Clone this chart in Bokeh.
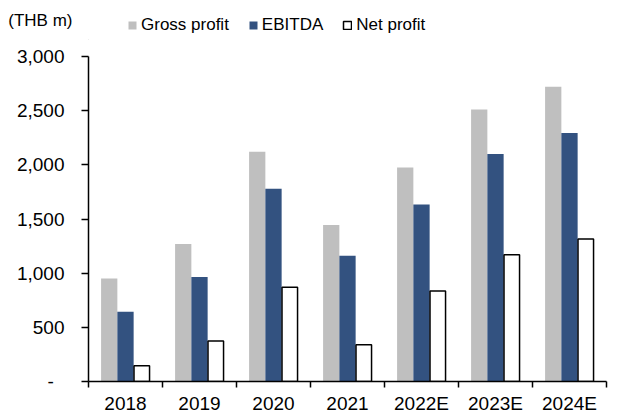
from bokeh.plotting import figure
from bokeh.layouts import column
from bokeh.models import (Range1d, FixedTicker, Legend, LegendItem,
                          NumeralTickFormatter, ColumnDataSource)
from bokeh.transform import dodge
from bokeh.embed import file_html
from bokeh.resources import INLINE

years = ["2018", "2019", "2020", "2021", "2022E", "2023E", "2024E"]
gross_profit = [950, 1270, 2120, 1445, 1975, 2510, 2720]
ebitda = [645, 965, 1780, 1160, 1635, 2100, 2295]
net_profit = [145, 375, 870, 340, 835, 1170, 1315]
y_ticks = [0, 500, 1000, 1500, 2000, 2500, 3000]
series_names = ["Gross profit", "EBITDA", "Net profit"]
unit_label = "(THB m)"

FONT = "Liberation Sans"
GREY, BLUE = "#BFBFBF", "#335280"
n = len(years)
centres = [i + 0.5 for i in range(n)]   # category slot centres on a numeric axis

# ---------------- header strip: unit label + legend ----------------
HEADER_H = 40
head = figure(width=624, height=HEADER_H, x_range=Range1d(0, 1), y_range=Range1d(0, 1),
              x_axis_location=None, y_axis_location="left",
              output_backend="svg", toolbar_location=None,
              min_border=0, min_border_left=88, min_border_right=18,
              min_border_top=0, min_border_bottom=0)
head.outline_line_color = None
head.grid.visible = False
head.background_fill_color = "white"
head.border_fill_color = "white"

# unit label carried by the header's (otherwise empty) left axis
hy = head.yaxis[0]
hy.ticker = FixedTicker(ticks=[])
hy.bounds = (0, 0.8)
hy.axis_line_color = None
hy.major_tick_out = 0
hy.major_tick_in = 0
hy.minor_tick_out = 0
hy.minor_tick_in = 0
hy.axis_label = unit_label
hy.axis_label_orientation = "horizontal"
hy.axis_label_standoff = 16
hy.axis_label_text_font = FONT
hy.axis_label_text_font_size = "17px"
hy.axis_label_text_font_style = "normal"
hy.axis_label_text_color = "black"

# legend swatch renderers (single point kept outside the header's visible range)
swatch = ColumnDataSource(dict(x=[-1.0], top=[0.0]))
h1 = head.vbar(x="x", top="top", width=0.1, source=swatch, fill_color=GREY, line_color=None)
h2 = head.vbar(x="x", top="top", width=0.1, source=swatch, fill_color=BLUE, line_color=None)
h3 = head.vbar(x="x", top="top", width=0.1, source=swatch, fill_color="white",
               line_color="black", line_width=1.5)

legend = Legend(items=[LegendItem(label=series_names[0], renderers=[h1]),
                       LegendItem(label=series_names[1], renderers=[h2]),
                       LegendItem(label=series_names[2], renderers=[h3])],
                orientation="horizontal", location=(39, 5),
                glyph_width=10, glyph_height=10, label_standoff=4, spacing=19,
                padding=0, margin=0, border_line_color=None,
                background_fill_alpha=0, label_height=20,
                label_text_font=FONT, label_text_font_size="17px",
                label_text_color="black")
head.add_layout(legend, "center")

# ---------------- main chart ----------------
fig = figure(width=624, height=416 - HEADER_H,
             x_range=Range1d(0, n),
             y_range=Range1d(0, 3000),
             output_backend="svg", toolbar_location=None,
             min_border_left=88, min_border_right=18,
             min_border_top=16, min_border_bottom=34)
fig.outline_line_color = None
fig.xgrid.visible = False
fig.ygrid.visible = False
fig.background_fill_color = "white"
fig.border_fill_color = "white"

src = ColumnDataSource(dict(pos=centres, gross=gross_profit, ebitda=ebitda, net=net_profit))
fig.vbar(x=dodge("pos", -0.22), top="gross", width=0.22,
         source=src, fill_color=GREY, line_color=None)
fig.vbar(x=dodge("pos", 0.0), top="ebitda", width=0.22,
         source=src, fill_color=BLUE, line_color=None)
fig.vbar(x=dodge("pos", 0.22), top="net", width=0.21,
         source=src, fill_color="white", line_color="black", line_width=1.5)

# y axis
ya = fig.yaxis[0]
ya.ticker = FixedTicker(ticks=y_ticks)
ya.formatter = NumeralTickFormatter(format="0,0")
ya.major_label_overrides = {0: "-\u00a0\u00a0"}
ya.major_tick_out = 7
ya.major_tick_in = 0
ya.minor_tick_out = 0
ya.minor_tick_in = 0
ya.axis_line_width = 1.5
ya.axis_line_color = "black"
ya.major_tick_line_width = 1.5
ya.major_tick_line_color = "black"
ya.major_label_standoff = 17
ya.major_label_text_font = FONT
ya.major_label_text_font_size = "19px"
ya.major_label_text_color = "black"

# x axis: ticks at category boundaries (minor), labels at centres (major)
xa = fig.xaxis[0]
xa.ticker = FixedTicker(ticks=centres, minor_ticks=list(range(n + 1)))
xa.major_label_overrides = {c: yr for c, yr in zip(centres, years)}
xa.major_tick_out = 0
xa.major_tick_in = 0
xa.minor_tick_out = 6
xa.minor_tick_in = 0
xa.minor_tick_line_width = 1.5
xa.minor_tick_line_color = "black"
xa.axis_line_width = 1.5
xa.axis_line_color = "black"
xa.major_label_standoff = 5
xa.major_label_text_font = FONT
xa.major_label_text_font_size = "19px"
xa.major_label_text_color = "black"

p = column(head, fig, spacing=0)

open("out.html", "w").write(file_html(p, INLINE))
